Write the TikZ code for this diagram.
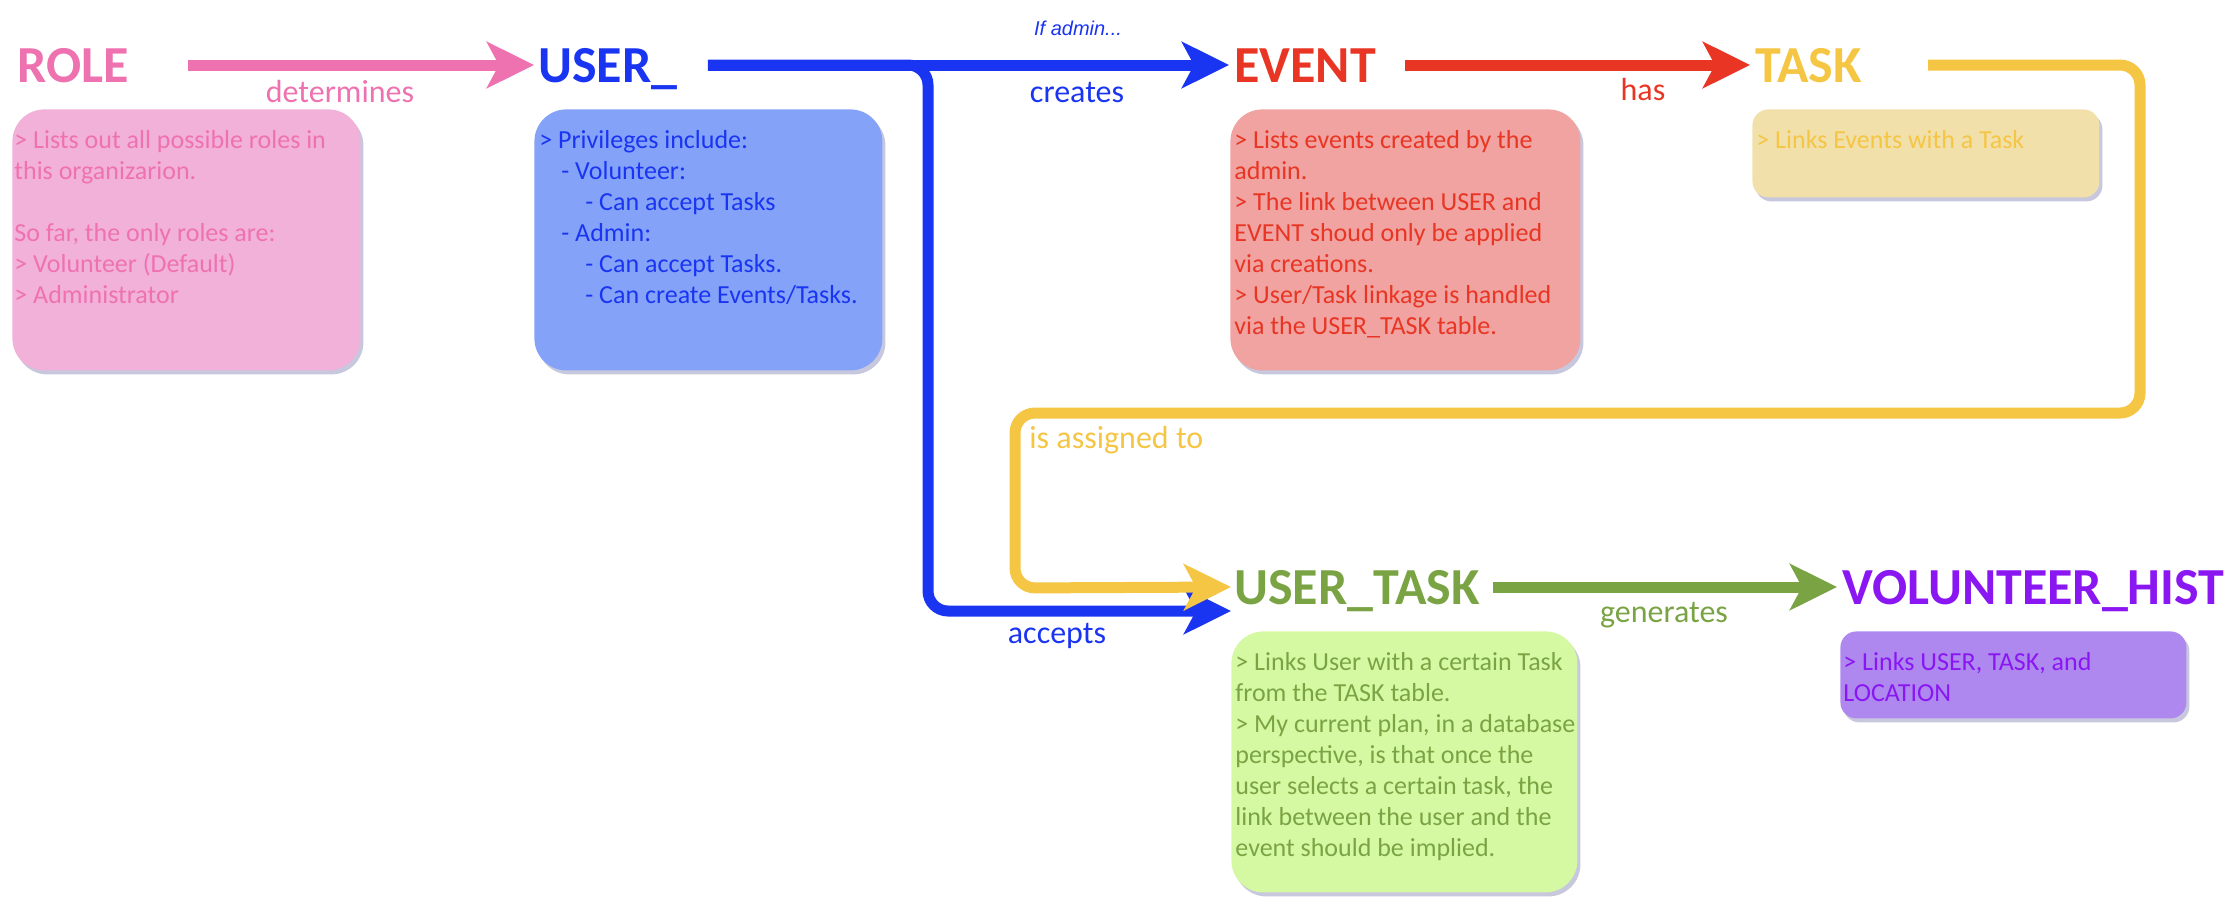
\documentclass[tikz,border=0pt]{standalone}
\usepackage{fontspec}
\setmainfont{Carlito}
\newfontfamily\arialfont{Liberation Sans}
\usetikzlibrary{arrows.meta,shadows}
\definecolor{rolepink}{HTML}{EE72B0}
\definecolor{rolefill}{HTML}{F2B1D8}
\definecolor{userblue}{HTML}{1A35F2}
\definecolor{userfill}{HTML}{84A2F8}
\definecolor{eventred}{HTML}{E83524}
\definecolor{eventfill}{HTML}{F0A3A0}
\definecolor{taskgold}{HTML}{F5C544}
\definecolor{taskfill}{HTML}{F2E0AA}
\definecolor{utgreen}{HTML}{7AA444}
\definecolor{utfill}{HTML}{D5F9A2}
\definecolor{histpurple}{HTML}{8A16F2}
\definecolor{histfill}{HTML}{AE88EE}
\begin{document}
\begin{tikzpicture}[
  x=0.5pt, y=-0.5pt,
  every node/.style={inner sep=0pt},
  title/.style={font=\fontsize{26}{30}\selectfont\bfseries, anchor=west, text height=17pt, text depth=0pt},
  relation/.style={font=\fontsize{16}{19}\selectfont, anchor=base},
  card/.style={anchor=north west, rounded corners=16pt, minimum width=174pt, minimum height=130.5pt,
    drop shadow={shadow xshift=1.5pt, shadow yshift=-2pt, fill=black!60!blue, opacity=0.22}},
  slim/.style={card, rounded corners=8pt, minimum height=44pt},
  cardtext/.style={anchor=north west, align=left, font=\fontsize{13}{15.5}\selectfont},
  link/.style={line width=5.5pt, -{Stealth[length=23.5pt, width=23pt, inset=6pt]}}
]
\useasboundingbox (0,0) rectangle (2238,910);

\node[title, text=rolepink] (role) at (17,65) {ROLE};
\node[title, text=userblue] (user) at (538,65) {USER\_};
\node[title, text=eventred] (event) at (1234,65) {EVENT};
\node[title, text=taskgold] (task) at (1755,65) {TASK};
\node[title, text=utgreen] (usertask) at (1234,587) {USER\_TASK};
\node[title, text=histpurple] (hist) at (1842,587) {VOLUNTEER\_HIST};

\node[card, fill=rolefill] (rolebox) at (12,109) {};
\node[card, fill=userfill] (userbox) at (534,109) {};
\node[card, fill=eventfill, minimum width=175pt] (eventbox) at (1230,109) {};
\node[slim, fill=taskfill, minimum width=173.5pt] (taskbox) at (1752,109) {};
\node[card, fill=utfill, minimum width=173pt] (utbox) at (1231,631) {};
\node[slim, fill=histfill, minimum width=173pt, minimum height=43.5pt] (histbox) at (1840,631) {};

\node[cardtext, text=rolepink] (roletext) at ([xshift=1pt, yshift=-10.5pt]rolebox.north west)
  {> Lists out all possible roles in\\ this organizarion.\\[15.5pt] So far, the only roles are:\\
   > Volunteer (Default)\\ > Administrator};
\node[cardtext, text=userblue] (usertext) at ([xshift=2.5pt, yshift=-10.5pt]userbox.north west)
  {> Privileges include:\\ \hspace*{11pt}- Volunteer:\\ \hspace*{23pt}- Can accept Tasks\\
   \hspace*{11pt}- Admin:\\ \hspace*{23pt}- Can accept Tasks.\\ \hspace*{23pt}- Can create Events/Tasks.};
\node[cardtext, text=eventred] (eventtext) at ([xshift=2pt, yshift=-10.5pt]eventbox.north west)
  {> Lists events created by the\\ admin.\\ > The link between USER and\\ EVENT shoud only be applied\\
   via creations.\\ > User/Task linkage is handled\\ via the USER\_TASK table.};
\node[cardtext, text=taskgold] (tasktext) at ([xshift=2pt, yshift=-10.5pt]taskbox.north west)
  {> Links Events with a Task};
\node[cardtext, text=utgreen] (uttext) at ([xshift=2pt, yshift=-10.5pt]utbox.north west)
  {> Links User with a certain Task\\ from the TASK table.\\ > My current plan, in a database\\
   perspective, is that once the\\ user selects a certain task, the\\ link between the user and the\\
   event should be implied.};
\node[cardtext, text=histpurple] (histtext) at ([xshift=1.5pt, yshift=-10.5pt]histbox.north west)
  {> Links USER, TASK, and\\ LOCATION};

\draw[link, rolepink] ([xshift=29.5pt]role.east) -- ([xshift=-2pt]user.west);
\draw[link, userblue] ([xshift=15pt]user.east) -- ([xshift=-2.5pt]event.west);
\draw[link, eventred] ([xshift=14.5pt]event.east) -- ([xshift=-2.5pt]task.west);
\draw[link, utgreen] ([xshift=6.5pt]usertask.east) -- ([xshift=-2.5pt]hist.west);
\draw[link, userblue, rounded corners=10pt] ([xshift=15pt]user.east) -- (928,65) -- (928,611)
  -- ([xshift=-1.5pt, yshift=-12pt]usertask.west);
\draw[link, taskgold, rounded corners=10pt] ([xshift=33pt]task.east) -- (2140,65) -- (2140,413)
  -- (1015,413) -- (1015,588) -- ([xshift=-1.5pt]usertask.west);

\node[relation, text=rolepink] (determines) at (340,102) {determines};
\node[relation, text=userblue] (creates) at (1077,102) {creates};
\node[anchor=base, font=\arialfont\itshape\fontsize{10}{12}\selectfont, text=userblue] (ifadmin) at (1078,35) {If admin...};
\node[relation, text=eventred] (has) at (1643,100) {has};
\node[relation, anchor=base west, text=taskgold] (assigned) at (1029,448) {is assigned to};
\node[relation, text=userblue] (accepts) at (1057,643) {accepts};
\node[relation, text=utgreen] (generates) at (1664,622) {generates};
\end{tikzpicture}
\end{document}
